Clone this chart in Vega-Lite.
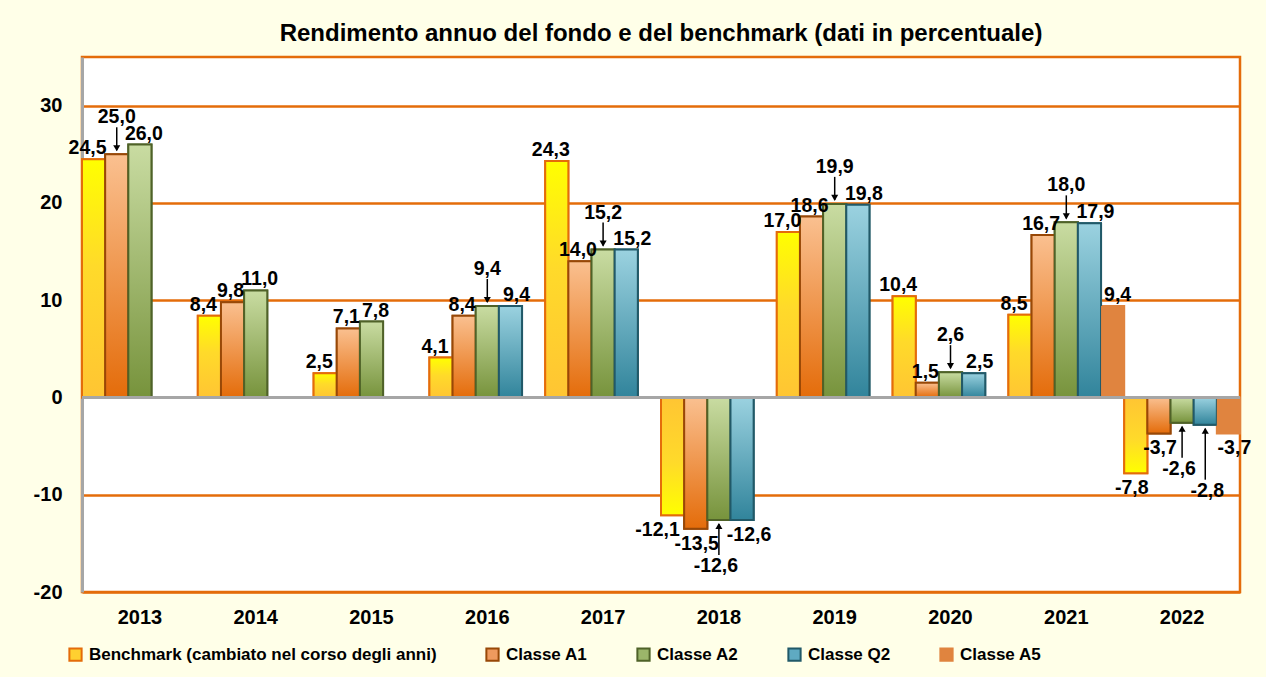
{
  "$schema": "https://vega.github.io/schema/vega-lite/v6.json",
  "width": 1158,
  "height": 535,
  "autosize": {"type": "none"},
  "padding": {"left": 82, "top": 57, "right": 26, "bottom": 85},
  "background": "#FFFFE8",
  "title": {"text": "Rendimento annuo del fondo e del benchmark (dati in percentuale)", "anchor": "middle", "offset": 11, "font": "Liberation Sans", "fontSize": 24, "fontWeight": "bold", "color": "#000000"},
  "data": {"values": [
    {"year": "2013", "series": "Benchmark (cambiato nel corso degli anni)", "value": 24.5, "leader": 0},
    {"year": "2013", "series": "Classe A1", "value": 25.0, "leader": 1},
    {"year": "2013", "series": "Classe A2", "value": 26.0, "leader": 0},
    {"year": "2014", "series": "Benchmark (cambiato nel corso degli anni)", "value": 8.4, "leader": 0},
    {"year": "2014", "series": "Classe A1", "value": 9.8, "leader": 0},
    {"year": "2014", "series": "Classe A2", "value": 11.0, "leader": 0},
    {"year": "2015", "series": "Benchmark (cambiato nel corso degli anni)", "value": 2.5, "leader": 0},
    {"year": "2015", "series": "Classe A1", "value": 7.1, "leader": 0},
    {"year": "2015", "series": "Classe A2", "value": 7.8, "leader": 0},
    {"year": "2016", "series": "Benchmark (cambiato nel corso degli anni)", "value": 4.1, "leader": 0},
    {"year": "2016", "series": "Classe A1", "value": 8.4, "leader": 0},
    {"year": "2016", "series": "Classe A2", "value": 9.4, "leader": 1},
    {"year": "2016", "series": "Classe Q2", "value": 9.4, "leader": 0},
    {"year": "2017", "series": "Benchmark (cambiato nel corso degli anni)", "value": 24.3, "leader": 0},
    {"year": "2017", "series": "Classe A1", "value": 14.0, "leader": 0},
    {"year": "2017", "series": "Classe A2", "value": 15.2, "leader": 1},
    {"year": "2017", "series": "Classe Q2", "value": 15.2, "leader": 0},
    {"year": "2018", "series": "Benchmark (cambiato nel corso degli anni)", "value": -12.1, "leader": 0},
    {"year": "2018", "series": "Classe A1", "value": -13.5, "leader": 0},
    {"year": "2018", "series": "Classe A2", "value": -12.6, "leader": 1},
    {"year": "2018", "series": "Classe Q2", "value": -12.6, "leader": 0},
    {"year": "2019", "series": "Benchmark (cambiato nel corso degli anni)", "value": 17.0, "leader": 0},
    {"year": "2019", "series": "Classe A1", "value": 18.6, "leader": 0},
    {"year": "2019", "series": "Classe A2", "value": 19.9, "leader": 1},
    {"year": "2019", "series": "Classe Q2", "value": 19.8, "leader": 0},
    {"year": "2020", "series": "Benchmark (cambiato nel corso degli anni)", "value": 10.4, "leader": 0},
    {"year": "2020", "series": "Classe A1", "value": 1.5, "leader": 0},
    {"year": "2020", "series": "Classe A2", "value": 2.6, "leader": 1},
    {"year": "2020", "series": "Classe Q2", "value": 2.5, "leader": 0},
    {"year": "2021", "series": "Benchmark (cambiato nel corso degli anni)", "value": 8.5, "leader": 0},
    {"year": "2021", "series": "Classe A1", "value": 16.7, "leader": 0},
    {"year": "2021", "series": "Classe A2", "value": 18.0, "leader": 1},
    {"year": "2021", "series": "Classe Q2", "value": 17.9, "leader": 0},
    {"year": "2021", "series": "Classe A5", "value": 9.4, "leader": 0},
    {"year": "2022", "series": "Benchmark (cambiato nel corso degli anni)", "value": -7.8, "leader": 0},
    {"year": "2022", "series": "Classe A1", "value": -3.7, "leader": 0},
    {"year": "2022", "series": "Classe A2", "value": -2.6, "leader": 1},
    {"year": "2022", "series": "Classe Q2", "value": -2.8, "leader": 1},
    {"year": "2022", "series": "Classe A5", "value": -3.7, "leader": 0}
  ]},
  "layer": [
    {
      "mark": {"type": "bar", "strokeWidth": 2},
      "encoding": {
        "x": {"field": "year", "type": "ordinal", "scale": {"paddingInner": 0, "paddingOuter": 0}, "title": null},
        "xOffset": {"field": "series", "type": "nominal", "scale": {"domain": ["Benchmark (cambiato nel corso degli anni)", "Classe A1", "Classe A2", "Classe Q2", "Classe A5"], "paddingInner": 0, "paddingOuter": 0}},
        "y": {"field": "value", "type": "quantitative", "scale": {"domain": [-20, 35], "nice": false, "zero": false}, "title": null, "axis": {"values": [-20, -10, 0, 10, 20, 30], "format": "d"}},
        "color": {"field": "series", "type": "nominal", "title": null, "scale": {"domain": ["Benchmark (cambiato nel corso degli anni)", "Classe A1", "Classe A2", "Classe Q2", "Classe A5"], "range": ["#FFD030", "#EE9A5E", "#9BB56A", "#5FAAC2", "#E0843F"]}},
        "stroke": {"field": "series", "type": "nominal", "title": null, "scale": {"domain": ["Benchmark (cambiato nel corso degli anni)", "Classe A1", "Classe A2", "Classe Q2", "Classe A5"], "range": ["#E46C0A", "#984807", "#4F6228", "#215968", "#E0843F"]}}
      }
    },
    {
      "transform": [{"filter": "datum.series == 'Benchmark (cambiato nel corso degli anni)' && datum.value >= 0"}],
      "mark": {"type": "bar", "stroke": "#E46C0A", "strokeWidth": 2, "fill": {"gradient": "linear", "x1": 0, "y1": 0, "x2": 0, "y2": 1, "stops": [{"offset": 0, "color": "#FFFF00"}, {"offset": 0.45, "color": "#FFDA2A"}, {"offset": 1, "color": "#FFC533"}]}},
      "encoding": {
        "x": {"field": "year", "type": "ordinal"},
        "xOffset": {"field": "series", "type": "nominal"},
        "y": {"field": "value", "type": "quantitative"}
      }
    },
    {
      "transform": [{"filter": "datum.series == 'Benchmark (cambiato nel corso degli anni)' && datum.value < 0"}],
      "mark": {"type": "bar", "stroke": "#E46C0A", "strokeWidth": 2, "fill": {"gradient": "linear", "x1": 0, "y1": 1, "x2": 0, "y2": 0, "stops": [{"offset": 0, "color": "#FFFF00"}, {"offset": 0.45, "color": "#FFDA2A"}, {"offset": 1, "color": "#FFC533"}]}},
      "encoding": {
        "x": {"field": "year", "type": "ordinal"},
        "xOffset": {"field": "series", "type": "nominal"},
        "y": {"field": "value", "type": "quantitative"}
      }
    },
    {
      "transform": [{"filter": "datum.series == 'Classe A1'"}],
      "mark": {"type": "bar", "stroke": "#984807", "strokeWidth": 2, "fill": {"gradient": "linear", "x1": 0, "y1": 0, "x2": 0, "y2": 1, "stops": [{"offset": 0, "color": "#FAC090"}, {"offset": 1, "color": "#E46C0A"}]}},
      "encoding": {
        "x": {"field": "year", "type": "ordinal"},
        "xOffset": {"field": "series", "type": "nominal"},
        "y": {"field": "value", "type": "quantitative"}
      }
    },
    {
      "transform": [{"filter": "datum.series == 'Classe A2'"}],
      "mark": {"type": "bar", "stroke": "#4F6228", "strokeWidth": 2, "fill": {"gradient": "linear", "x1": 0, "y1": 0, "x2": 0, "y2": 1, "stops": [{"offset": 0, "color": "#C9DCA2"}, {"offset": 1, "color": "#77933C"}]}},
      "encoding": {
        "x": {"field": "year", "type": "ordinal"},
        "xOffset": {"field": "series", "type": "nominal"},
        "y": {"field": "value", "type": "quantitative"}
      }
    },
    {
      "transform": [{"filter": "datum.series == 'Classe Q2'"}],
      "mark": {"type": "bar", "stroke": "#215968", "strokeWidth": 2, "fill": {"gradient": "linear", "x1": 0, "y1": 0, "x2": 0, "y2": 1, "stops": [{"offset": 0, "color": "#9BD2E0"}, {"offset": 1, "color": "#31849B"}]}},
      "encoding": {
        "x": {"field": "year", "type": "ordinal"},
        "xOffset": {"field": "series", "type": "nominal"},
        "y": {"field": "value", "type": "quantitative"}
      }
    },
    {
      "transform": [{"filter": "datum.series == 'Classe A5'"}],
      "mark": {"type": "bar", "fill": "#E0843F", "strokeWidth": 0},
      "encoding": {
        "x": {"field": "year", "type": "ordinal"},
        "xOffset": {"field": "series", "type": "nominal"},
        "y": {"field": "value", "type": "quantitative"}
      }
    },
    {
      "mark": {"type": "rule", "color": "#A6A6A6", "strokeWidth": 3},
      "encoding": {"y": {"datum": 0, "type": "quantitative"}}
    },
    {
      "transform": [{"filter": "datum.value >= 0 && datum.leader == 0"}],
      "mark": {"type": "text", "baseline": "alphabetic", "dy": -5, "dx": {"expr": "datum.series == 'Classe Q2' ? 6 : datum.series == 'Classe A5' ? 5 : datum.series == 'Classe A1' ? -2 : datum.series == 'Classe A2' ? 4 : -6"}, "font": "Liberation Sans", "fontSize": 19.5, "fontWeight": "bold", "color": "#000000"},
      "encoding": {
        "x": {"field": "year", "type": "ordinal"},
        "xOffset": {"field": "series", "type": "nominal"},
        "y": {"field": "value", "type": "quantitative"},
        "text": {"field": "value", "type": "quantitative", "format": ".1f"}
      }
    },
    {
      "transform": [{"filter": "datum.value < 0 && datum.leader == 0"}],
      "mark": {"type": "text", "baseline": "top", "dy": 6, "dx": {"expr": "datum.series == 'Classe Q2' ? 7 : datum.series == 'Classe A5' ? 6 : datum.series == 'Classe A1' ? 1 : datum.value < -10 ? -15 : -4"}, "font": "Liberation Sans", "fontSize": 19.5, "fontWeight": "bold", "color": "#000000"},
      "encoding": {
        "x": {"field": "year", "type": "ordinal"},
        "xOffset": {"field": "series", "type": "nominal"},
        "y": {"field": "value", "type": "quantitative"},
        "text": {"field": "value", "type": "quantitative", "format": ".1f"}
      }
    },
    {
      "transform": [{"filter": "datum.value >= 0 && datum.leader == 1"}],
      "mark": {"type": "text", "baseline": "alphabetic", "dy": -31, "font": "Liberation Sans", "fontSize": 19.5, "fontWeight": "bold", "color": "#000000"},
      "encoding": {
        "x": {"field": "year", "type": "ordinal"},
        "xOffset": {"field": "series", "type": "nominal"},
        "y": {"field": "value", "type": "quantitative"},
        "text": {"field": "value", "type": "quantitative", "format": ".1f"}
      }
    },
    {
      "transform": [{"filter": "datum.value >= 0 && datum.leader == 1"}],
      "mark": {"type": "rule", "color": "#000000", "strokeWidth": 1.5, "yOffset": -4, "y2Offset": -27},
      "encoding": {
        "x": {"field": "year", "type": "ordinal"},
        "xOffset": {"field": "series", "type": "nominal"},
        "y": {"field": "value", "type": "quantitative"},
        "y2": {"field": "value"}
      }
    },
    {
      "transform": [{"filter": "datum.value >= 0 && datum.leader == 1"}],
      "mark": {"type": "point", "shape": "triangle-down", "filled": true, "color": "#000000", "size": 50, "yOffset": -6, "opacity": 1},
      "encoding": {
        "x": {"field": "year", "type": "ordinal"},
        "xOffset": {"field": "series", "type": "nominal"},
        "y": {"field": "value", "type": "quantitative"}
      }
    },
    {
      "transform": [{"filter": "datum.value < 0 && datum.leader == 1"}],
      "mark": {"type": "text", "baseline": "top", "dy": {"expr": "datum.series == 'Classe Q2' ? 57 : 37"}, "dx": {"expr": "datum.series == 'Classe Q2' ? 2 : -3"}, "font": "Liberation Sans", "fontSize": 19.5, "fontWeight": "bold", "color": "#000000"},
      "encoding": {
        "x": {"field": "year", "type": "ordinal"},
        "xOffset": {"field": "series", "type": "nominal"},
        "y": {"field": "value", "type": "quantitative"},
        "text": {"field": "value", "type": "quantitative", "format": ".1f"}
      }
    },
    {
      "transform": [{"filter": "datum.value < 0 && datum.leader == 1 && datum.series == 'Classe A2'"}],
      "mark": {"type": "rule", "color": "#000000", "strokeWidth": 1.5, "yOffset": 4, "y2Offset": 35},
      "encoding": {
        "x": {"field": "year", "type": "ordinal"},
        "xOffset": {"field": "series", "type": "nominal"},
        "y": {"field": "value", "type": "quantitative"},
        "y2": {"field": "value"}
      }
    },
    {
      "transform": [{"filter": "datum.value < 0 && datum.leader == 1 && datum.series == 'Classe Q2'"}],
      "mark": {"type": "rule", "color": "#000000", "strokeWidth": 1.5, "yOffset": 4, "y2Offset": 55},
      "encoding": {
        "x": {"field": "year", "type": "ordinal"},
        "xOffset": {"field": "series", "type": "nominal"},
        "y": {"field": "value", "type": "quantitative"},
        "y2": {"field": "value"}
      }
    },
    {
      "transform": [{"filter": "datum.value < 0 && datum.leader == 1"}],
      "mark": {"type": "point", "shape": "triangle-up", "filled": true, "color": "#000000", "size": 50, "yOffset": 6, "opacity": 1},
      "encoding": {
        "x": {"field": "year", "type": "ordinal"},
        "xOffset": {"field": "series", "type": "nominal"},
        "y": {"field": "value", "type": "quantitative"}
      }
    }
  ],
  "config": {
    "locale": {"number": {"decimal": ",", "thousands": ".", "grouping": [3], "currency": ["", " €"], "minus": "-"}},
    "view": {"stroke": "#E46C0A", "strokeWidth": 2.5, "fill": "#FFFFFF"},
    "axisY": {"grid": true, "gridColor": "#E46C0A", "gridWidth": 2.5, "gridOpacity": 1, "domainColor": "#A6A6A6", "domainWidth": 3, "ticks": false, "labelPadding": 20, "labelFont": "Liberation Sans", "labelFontWeight": "bold", "labelFontSize": 20, "labelColor": "#000000"},
    "axisX": {"grid": false, "domain": false, "ticks": false, "labelPadding": 15, "labelAngle": 0, "labelFont": "Liberation Sans", "labelFontWeight": "bold", "labelFontSize": 20, "labelColor": "#000000"},
    "legend": {"orient": "none", "legendX": -15, "legendY": 589, "direction": "horizontal", "symbolType": "square", "symbolSize": 150, "symbolStrokeWidth": 2, "labelFont": "Liberation Sans", "labelFontWeight": "bold", "labelFontSize": 17, "labelColor": "#000000", "labelOffset": 5, "columnPadding": 45, "padding": 0, "labelLimit": 500}
  }
}
